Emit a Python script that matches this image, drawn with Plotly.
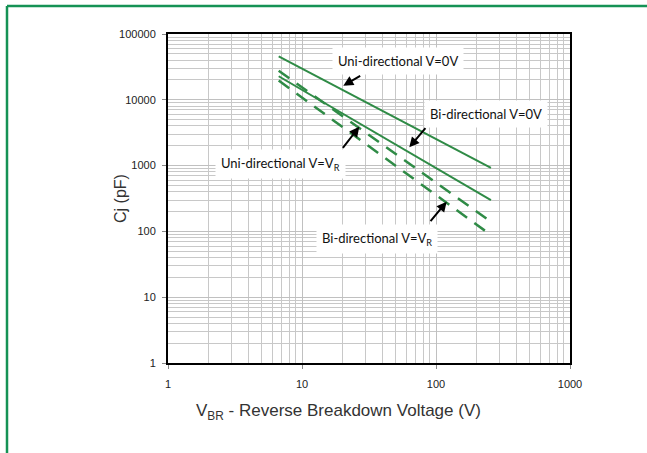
import plotly.graph_objects as go

# Data
vbr = [6.7, 257]
uni_0v = [45700, 920]
bi_0v = [22800, 298]
uni_vr = [27700, 140]
bi_vr = [19600, 88]

x_ticks = [1, 10, 100, 1000]
y_ticks = [1, 10, 100, 1000, 10000, 100000]

GREEN = "#2f8b46"
W, H = 647, 453
L, R, T, B = 168, 77, 34, 90
PW, PH = W - L - R, H - T - B

def px(x):
    return (x - L) / PW

def py(y):
    return (H - B - y) / PH

fig = go.Figure()
fig.add_trace(go.Scatter(x=vbr, y=uni_0v, mode="lines", line=dict(color=GREEN, width=2), name="Uni-directional V=0V"))
fig.add_trace(go.Scatter(x=vbr, y=bi_0v, mode="lines", line=dict(color=GREEN, width=2), name="Bi-directional V=0V"))
fig.add_trace(go.Scatter(x=vbr, y=uni_vr, mode="lines", line=dict(color=GREEN, width=2.5, dash="13px,9px"), name="Uni-directional V=VR"))
fig.add_trace(go.Scatter(x=vbr, y=bi_vr, mode="lines", line=dict(color=GREEN, width=2.5, dash="13px,9px"), name="Bi-directional V=VR"))

axis_common = dict(
    type="log",
    showline=True, linecolor="black", linewidth=2, mirror=True,
    showgrid=True, gridcolor="#c0c0c0", gridwidth=1,
    minor=dict(showgrid=True, gridcolor="#c8c8c8", gridwidth=1, dtick="D1"),
    ticks="outside", ticklen=4, tickcolor="#888888",
    tickfont=dict(family="Liberation Sans, Arial", size=11, color="#222222"),
    zeroline=False,
)

fig.update_xaxes(range=[0, 3], tickvals=x_ticks, ticktext=[str(v) for v in x_ticks],
                 ticklabelstandoff=6, **axis_common)
fig.update_yaxes(range=[0, 5], tickvals=y_ticks, ticktext=[str(v) for v in y_ticks],
                 ticklabelstandoff=4, **axis_common)

label_font = dict(family="Lato, Carlito, Open Sans", size=13, color="#111111")

labels = [
    ("Uni-directional V=0V", 398, 61),
    ("Bi-directional V=0V", 486, 114),
    ("Uni-directional V=V<sub>R</sub>", 280, 164),
    ("Bi-directional V=V<sub>R</sub>", 377, 239),
]
for text, x, y in labels:
    fig.add_annotation(xref="paper", yref="paper", x=px(x), y=py(y), text=text,
                       showarrow=False, font=label_font, bgcolor="white",
                       borderpad=5, xanchor="center", yanchor="middle")

arrows = [
    ((361.7, 75), (343.3, 85.7)),
    ((426.7, 126.7), (409.3, 147.3)),
    ((341.7, 149.3), (359.3, 126.7)),
    ((429.3, 222.7), (446.7, 201.7)),
]
for (tx, ty), (hx, hy) in arrows:
    fig.add_annotation(xref="paper", yref="paper", x=px(hx), y=py(hy),
                       axref="pixel", ayref="pixel", ax=tx - hx, ay=ty - hy,
                       text="", showarrow=True, arrowhead=2, arrowsize=1.0,
                       arrowwidth=2, arrowcolor="black")

fig.add_annotation(xref="paper", yref="paper", x=px(338), y=py(412),
                   text="V<sub>BR</sub> - Reverse Breakdown Voltage (V)", showarrow=False,
                   font=dict(family="Liberation Sans, Arial", size=17, color="#333333"),
                   xanchor="center", yanchor="middle")
fig.add_annotation(xref="paper", yref="paper", x=px(120), y=py(199),
                   text="Cj (pF)", showarrow=False, textangle=-90,
                   font=dict(family="Liberation Sans, Arial", size=16, color="#333333"),
                   xanchor="center", yanchor="middle")

# green frame lines (top and left)
fig.add_shape(type="line", xref="paper", yref="paper", x0=px(7), y0=py(6), x1=px(W + 5), y1=py(6),
              line=dict(color="#159255", width=2.5))
fig.add_shape(type="line", xref="paper", yref="paper", x0=px(7), y0=py(6), x1=px(7), y1=py(H + 5),
              line=dict(color="#159255", width=2.5))

fig.update_layout(
    width=W, height=H,
    margin=dict(l=L, r=R, t=T, b=B),
    paper_bgcolor="white", plot_bgcolor="white",
    showlegend=False,
)

fig.write_html("out.html", config={"displayModeBar": False},
               post_script="document.body.style.margin='0px';")
